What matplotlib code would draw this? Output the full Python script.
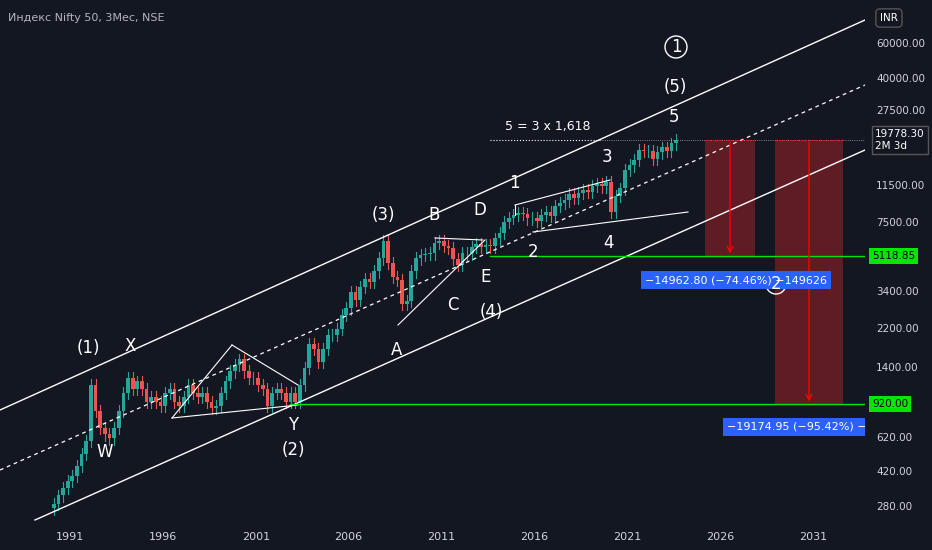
import numpy as np
import matplotlib.pyplot as plt
from matplotlib.patches import Rectangle, Circle

# quarterly closes, Nifty 50 (approximate), 1990Q1 .. 2023Q3
closes = [290, 320, 350, 380,
          400, 450, 520, 600,
          1150, 850, 700, 650,
          620, 700, 850, 1050,
          1250, 1100, 1200, 1100,
          950, 1000, 950, 900,
          1050, 1100, 950, 900,
          1000, 1150, 1050, 1000,
          1050, 950, 880, 900,
          1050, 1200, 1350, 1450,
          1550, 1350, 1250, 1250,
          1150, 1100, 900, 1050,
          1100, 1050, 950, 1050,
          950, 1150, 1400, 1850,
          1750, 1500, 1750, 2050,
          2050, 2200, 2600, 2800,
          3400, 3100, 3600, 3950,
          3800, 4300, 5000, 6100,
          4750, 4050, 3900, 2950,
          3050, 4300, 5000, 5200,
          5250, 5300, 6000, 6100,
          5800, 5650, 4950, 4650,
          5300, 5300, 5700, 5900,
          5700, 5850, 5750, 6300,
          6700, 7600, 8000, 8300,
          8500, 8350, 7950, 7950,
          7750, 8300, 8600, 8200,
          9200, 9500, 9800, 10500,
          10100, 10700, 11000, 10850,
          11600, 11900, 11500, 12150,
          8600, 10300, 11250, 13900,
          14700, 15700, 17600, 17350,
          17450, 15800, 17100, 18100,
          17350, 18950, 19778.3]
start_year = 1990.0
last_price = 19778.30
target1 = 5118.85
target2 = 920.00
right_ticks = [60000, 40000, 27500, 11500, 7500, 3400, 2200, 1400, 620, 420, 280]
year_ticks = [1991, 1996, 2001, 2006, 2011, 2016, 2021, 2026, 2031]

BG = '#131722'
GREEN = '#26a69a'
RED = '#ef5350'


# pixel -> data helpers (reference is 932x550)
def px(x):
    return 1991 + (x - 70) / 18.575


def py(y):
    return 10 ** (np.log10(60000) - (y - 44) / 198.6)


fig = plt.figure(figsize=(9.32, 5.5), dpi=100, facecolor=BG)
ax = fig.add_axes([0, 25 / 550, 865 / 932, 525 / 550])
ax.set_facecolor(BG)
ax.set_yscale('log')
ax.set_xlim(px(0), px(865))
ax.set_ylim(py(525), py(0))
for s in ax.spines.values():
    s.set_visible(False)
ax.set_yticks([])
ax.set_xticks([])

# candles
prev = closes[0] * 0.95
for i, c in enumerate(closes):
    t = start_year + i * 0.25 + 0.125
    o = prev
    col = GREEN if c >= o else RED
    hi = max(o, c) * 1.07
    lo = min(o, c) * 0.93
    ax.plot([t, t], [lo, hi], color=col, lw=0.8)
    ax.add_patch(Rectangle((t - 0.1, min(o, c)), 0.2, abs(c - o) + 1e-6, color=col, lw=0))
    prev = c

# channel
ax.plot([px(0), px(865)], [py(410), py(20)], color='white', lw=1)
ax.plot([px(35), px(865)], [py(520), py(150)], color='white', lw=1)
ax.plot([px(0), px(865)], [py(470), py(85)], color='white', lw=0.9, ls=(0, (3, 3)))

# structures
w = dict(color='white', lw=0.8)
ax.plot([px(172), px(298)], [py(418), py(405)], **w)
ax.plot([px(172), px(232)], [py(418), py(345)], **w)
ax.plot([px(232), px(298)], [py(345), py(385)], **w)
ax.plot([px(398), px(485)], [py(325), py(240)], **w)
ax.plot([px(435), px(483)], [py(238), py(240)], **w)
ax.plot([px(515), px(610)], [py(205), py(180)], **w)
ax.plot([px(533), px(688)], [py(232), py(212)], **w)
ax.plot([px(515), px(515)], [py(205), py(215)], **w)
ax.plot([px(490), px(600)], [last_price, last_price], color='white', lw=0.8, ls=':')
ax.plot([px(600), px(865)], [last_price, last_price], color='#aaaaaa', lw=0.6, ls=':')

# targets
ax.plot([px(490), px(865)], [target1, target1], color='#00e600', lw=1)
ax.plot([px(290), px(865)], [target2, target2], color='#00e600', lw=1)
for x0, x1, tgt in [(705, 755, target1), (775, 843, target2)]:
    ax.add_patch(Rectangle((px(x0), tgt), px(x1) - px(x0), last_price - tgt,
                           facecolor='#7a1f25', alpha=0.75, lw=0))
    ax.plot([px(x0), px(x1)], [last_price, last_price], color='red', lw=1, ls=':')
    xm = (px(x0) + px(x1)) / 2
    ax.annotate('', xy=(xm, tgt), xytext=(xm, last_price),
                arrowprops=dict(arrowstyle='->', color='red', lw=1))

ax.text(px(645), py(280), '\u221214962.80 (\u221274.46%) \u2212149626', color='white', fontsize=8,
        va='center', bbox=dict(boxstyle='square,pad=0.35', fc='#2962ff', ec='none'))
ax.text(px(727), py(427), '\u221219174.95 (\u221295.42%) \u2212383', color='white', fontsize=8,
        va='center', clip_on=True,
        bbox=dict(boxstyle='square,pad=0.35', fc='#2962ff', ec='none'))

# wave labels
labels = [(88, 348, '(1)'), (130, 346, 'X'), (105, 452, 'W'), (293, 425, 'Y'), (293, 450, '(2)'),
          (383, 215, '(3)'), (434, 215, 'B'), (480, 210, 'D'), (397, 350, 'A'), (453, 305, 'C'),
          (486, 277, 'E'), (491, 312, '(4)'), (514, 183, '1'), (533, 252, '2'), (607, 157, '3'),
          (608, 243, '4'), (674, 117, '5'), (675, 87, '(5)'), (676, 47, '1')]
for x, y, s in labels:
    ax.text(px(x), py(y), s, color='white', fontsize=12, ha='center', va='center')
ax.add_patch(Circle((676, 503), 11, transform=None, fill=False, ec='white', lw=1))
ax.text(px(776), py(284), '2', color='white', fontsize=12, ha='center', va='center')
ax.add_patch(Circle((776, 550 - 284), 10, transform=None, fill=False, ec='white', lw=1))
ax.text(px(548), py(126), '5 = 3 x 1,618', color='white', fontsize=9, ha='center', va='center')

ax.text(8, 532, 'Индекс Nifty 50, 3Мес, NSE', transform=None, color='#b2b5be', fontsize=8,
        va='center')

# right price scale
for v in right_ticks:
    y = 550 - (44 + (np.log10(60000) - np.log10(v)) * 198.6)
    fig.text(876 / 932, y / 550, f'{v:.2f}', color='#d1d4dc', fontsize=7.5, va='center')
yb = 550 - (44 + (np.log10(60000) - np.log10(last_price)) * 198.6)
fig.text(875 / 932, yb / 550, f'{last_price:.2f}\n2M 3d', color='white', fontsize=7.5,
         va='center', linespacing=1.2,
         bbox=dict(boxstyle='square,pad=0.3', fc='#131722', ec='#555555'))
for v in [target1, target2]:
    y = 550 - (44 + (np.log10(60000) - np.log10(v)) * 198.6)
    fig.text(872 / 932, y / 550, f'{v:.2f}', color='black', fontsize=7.5, va='center',
             bbox=dict(boxstyle='square,pad=0.3', fc='#00e600', ec='none'))
fig.text(880 / 932, 532 / 550, 'INR', color='white', fontsize=7.5, va='center',
         bbox=dict(boxstyle='round,pad=0.4', fc=BG, ec='#555555'))

# years
for yr in year_ticks:
    x = 70 + (yr - 1991) * 18.575
    fig.text(x / 932, 13 / 550, str(yr), color='#d1d4dc', fontsize=8, ha='center', va='center')

fig.savefig('out.png', dpi=100, facecolor=BG)
